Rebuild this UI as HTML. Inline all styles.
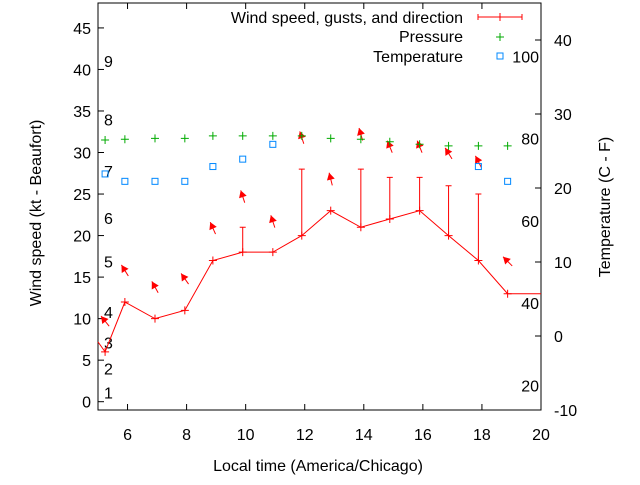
<!DOCTYPE html>
<html><head><meta charset="utf-8"><style>
body{margin:0;background:#fff}
svg text{font-family:"Liberation Sans",sans-serif;font-size:16px;fill:#000}
</style></head><body>
<svg id="c" width="640" height="480" xmlns="http://www.w3.org/2000/svg"></svg>
<script>
const hours=[5.24,5.91,6.93,7.94,8.89,9.9,10.92,11.9,12.88,13.9,14.88,15.89,16.87,17.88,18.87];
const wind=[6,12,10,11,17,18,18,20,23,21,22,23,20,17,13];
const gusts=[null,null,null,null,null,21,null,28,null,28,27,27,26,25,null];
const pressure=[31.5,31.6,31.7,31.7,32.0,32.0,32.0,32.0,31.7,31.6,31.3,31.0,30.8,30.8,30.8];
const tempC=[21.9,20.9,20.9,20.9,22.9,23.9,25.9,null,null,null,null,null,null,22.9,20.9];
const arrowY=[9.7,15.8,13.8,14.8,20.9,24.7,21.7,31.8,26.8,32.2,30.7,30.7,29.9,28.9,16.9];
const arrowDir=[-39,-32,-29,-35,-24,-18,-18,-18,-14,-16,-22,-22,-32,-27,-45];
const xTicks=[6,8,10,12,14,16,18,20];
const yTicks=[0,5,10,15,20,25,30,35,40,45];
const cTicks=[-10,0,10,20,30,40];
const fTicks=[20,40,60,80,100];
const beaufort=[[1,1.1],[2,4],[3,7.1],[4,10.8],[5,16.9],[6,22.1],[7,27.8],[8,34],[9,41]];

const L=98,R=541,T=3,B=410;
const X=h=>L+(h-5)/15*(R-L);
const Y=v=>B-(v+1)/49*(B-T);
const YC=c=>B-(c+10)/55*(B-T);
const YF=f=>YC((f-32)*5/9);
const svg=document.getElementById('c');
const NS='http://www.w3.org/2000/svg';
function el(t,a,name,txt){const e=document.createElementNS(NS,t);for(const k in a)e.setAttribute(k,a[k]);


if(txt!==undefined)e.textContent=txt;svg.appendChild(e);return e;}

el('rect',{x:L,y:T,width:R-L,height:B-T,fill:'none',stroke:'#000','stroke-width':1},'plot-frame');
xTicks.forEach(t=>{const x=X(t);
el('line',{x1:x,y1:B,x2:x,y2:B-6,stroke:'#000'},'x-tick');
el('line',{x1:x,y1:T,x2:x,y2:T+6,stroke:'#000'},'x-tick-top');
el('text',{x:x,y:440,'text-anchor':'middle'},'x-tick-label',t);});
yTicks.forEach(t=>{const y=Y(t);
el('line',{x1:L,y1:y,x2:L+6,y2:y,stroke:'#000'},'y-tick');
el('text',{x:91,y:y+6,'text-anchor':'end'},'y-tick-label',t);});
cTicks.forEach(t=>{const y=YC(t);
el('line',{x1:R,y1:y,x2:R-6,y2:y,stroke:'#000'},'temp-c-tick');
el('text',{x:554,y:y+6},'temp-c-label',t);});
fTicks.forEach(t=>{el('text',{x:539,y:YF(t)+6,'text-anchor':'end'},'temp-f-label',t);});
beaufort.forEach(b=>{el('text',{x:104,y:Y(b[1])+6},'beaufort-label',b[0]);});

el('text',{x:318,y:471,'text-anchor':'middle'},'x-axis-title','Local time (America/Chicago)');
el('text',{x:41,y:213,'text-anchor':'middle',transform:'rotate(-90 41 213)'},'y-axis-title','Wind speed (kt - Beaufort)');
el('text',{x:610,y:207,'text-anchor':'middle',transform:'rotate(-90 610 207)'},'y2-axis-title','Temperature (C - F)');

let pts=[[L,Y(7.2)]].concat(hours.map((h,i)=>[X(h),Y(wind[i])]));pts.push([R,Y(wind[wind.length-1])]);
el('polyline',{points:pts.map(p=>p.join(',')).join(' '),fill:'none',stroke:'#f00','stroke-width':1},'wind-speed-line');
hours.forEach((h,i)=>{const x=X(h),y=Y(wind[i]);
el('path',{d:`M${x-4},${y}H${x+4}M${x},${y-4}V${y+4}`,stroke:'#f00'},'wind-point');
if(gusts[i]!=null){const g=Y(gusts[i]);
el('path',{d:`M${x},${y}V${g}M${x-3},${g}H${x+3}`,stroke:'#f00'},'gust-bar');}
});
hours.forEach((h,i)=>{const cx=X(h),cy=Y(arrowY[i]),a=arrowDir[i]*Math.PI/180,len=13;
const dx=Math.sin(a)*len/2,dy=-Math.cos(a)*len/2;
const hx=cx+dx,hy=cy+dy,tx=cx-dx,ty=cy-dy;
const ux=dx/(len/2),uy=dy/(len/2);
const p1=[hx-ux*7-uy*4,hy-uy*7+ux*4],p2=[hx-ux*7+uy*4,hy-uy*7-ux*4];
const g=el('g',{},'wind-direction-arrow');
const l=document.createElementNS(NS,'line');
[['x1',tx],['y1',ty],['x2',hx],['y2',hy],['stroke','#f00']].forEach(k=>l.setAttribute(k[0],k[1]));
g.appendChild(l);
const p=document.createElementNS(NS,'polygon');
p.setAttribute('points',`${hx},${hy} ${p1.join(',')} ${p2.join(',')}`);p.setAttribute('fill','#f00');
g.appendChild(p);});
hours.forEach((h,i)=>{const x=X(h),y=Y(pressure[i]);
el('path',{d:`M${x-4},${y}H${x+4}M${x},${y-4}V${y+4}`,stroke:'#0a0'},'pressure-point');});
hours.forEach((h,i)=>{if(tempC[i]==null)return;const x=X(h),y=YC(tempC[i]);
el('rect',{x:x-3,y:y-3,width:6,height:6,fill:'none',stroke:'#08f'},'temperature-point');});
el('text',{x:463,y:23,'text-anchor':'end'},'legend-wind-label','Wind speed, gusts, and direction');
el('path',{d:'M478,17H522M478,14V20M522,14V20M500,13V21',stroke:'#f00'},'legend-wind-sample');
el('text',{x:463,y:42,'text-anchor':'end'},'legend-pressure-label','Pressure');
el('path',{d:'M496,37H504M500,33V41',stroke:'#0a0'},'legend-pressure-sample');
el('text',{x:463,y:62,'text-anchor':'end'},'legend-temperature-label','Temperature');
el('rect',{x:497,y:53,width:6,height:6,fill:'none',stroke:'#08f'},'legend-temperature-sample');
</script>
</body></html>
